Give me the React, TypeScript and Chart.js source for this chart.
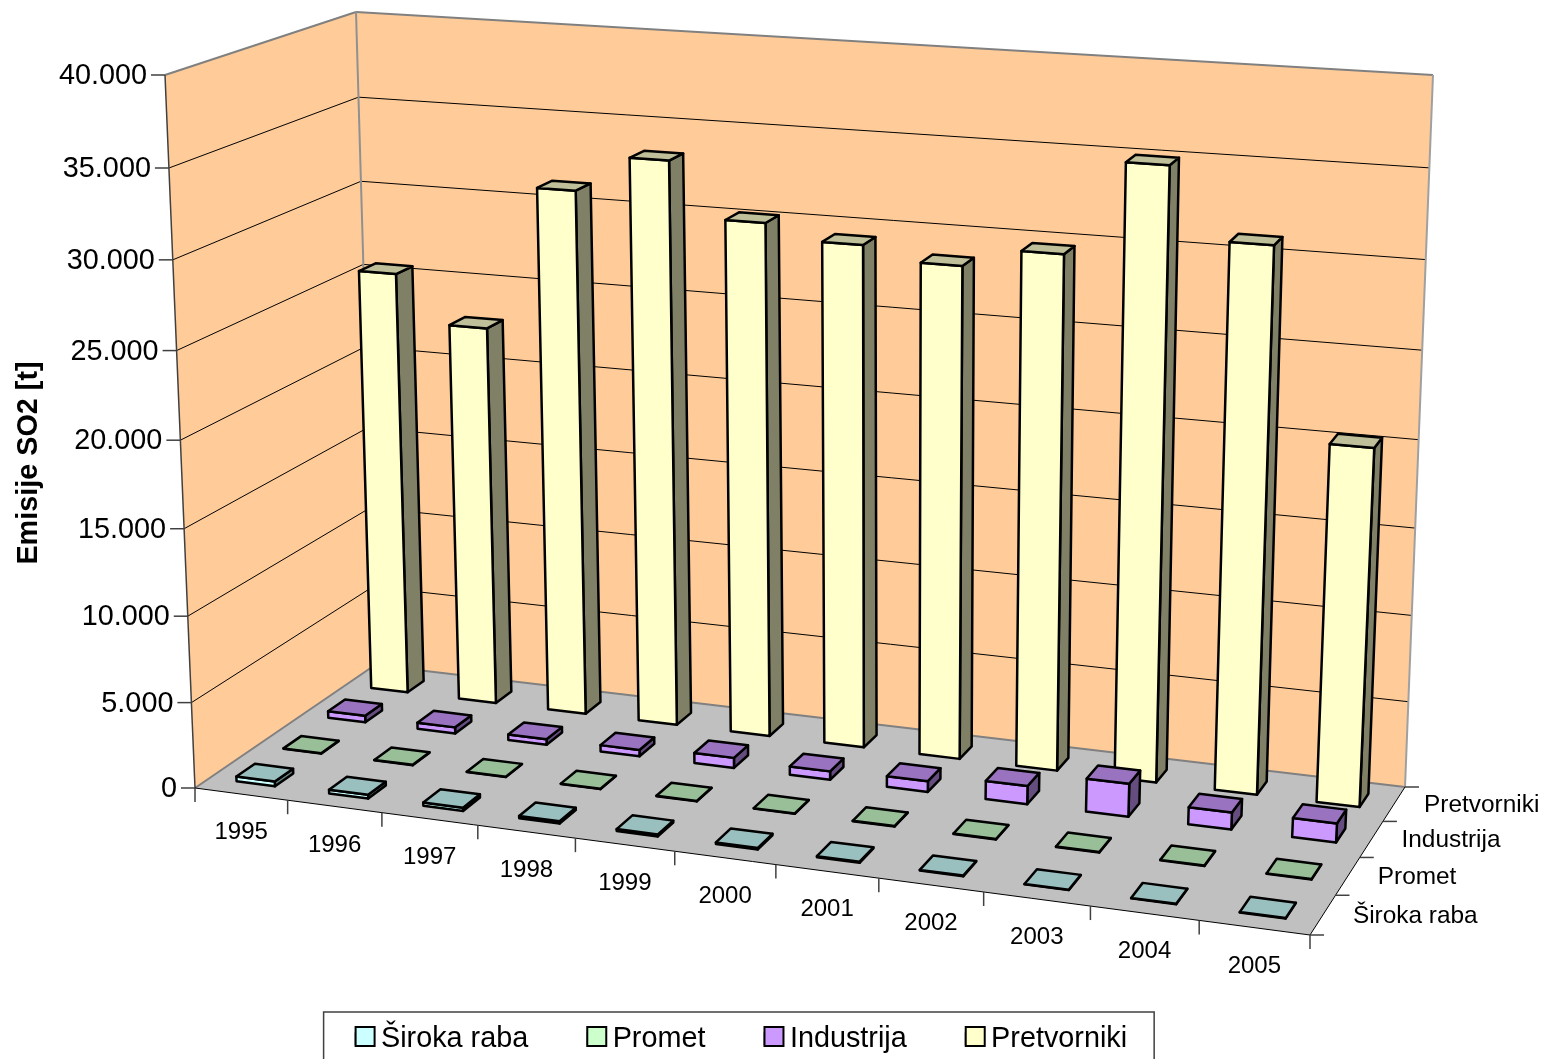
import React, { useEffect, useRef } from "react";
import { Chart, registerables } from "chart.js";

Chart.register(...registerables);

const years = ["1995","1996","1997","1998","1999","2000","2001","2002","2003","2004","2005"];
const sirokaRaba = [280, 220, 190, 130, 110, 90, 60, 40, 20, 20, 20];
const promet = [25, 25, 25, 25, 25, 25, 25, 25, 25, 25, 25];
const industrija = [400, 370, 330, 380, 600, 500, 630, 1060, 1900, 970, 1080];
const pretvorniki = [25550, 22780, 31240, 33350, 30200, 29370, 28620, 29700, 35000, 31050, 20400];
const seriesNames = ["Široka raba", "Promet", "Industrija", "Pretvorniki"];
const seriesValues = [sirokaRaba, promet, industrija, pretvorniki];
const seriesColors = ["#CCFFFF", "#CCFFCC", "#CC99FF", "#FFFFCC"];
const axisTitle = "Emisije SO2 [t]";

type Pt = [number, number];
const FONT = '"Liberation Sans", Arial, sans-serif';
const FLOOR: Pt[] = [[195, 788], [1310, 935], [1405, 787], [375, 665]];
const ROOF: Pt[] = [[165, 75], [1360, 155], [1433, 75], [356, 12]];
const PERSPECTIVE = 1.05;
const BAR_FRACTION = 0.417;
const DEPTH_FRACTION = 0.39;
const LEGEND_TOP = 965.6;

function quadMap(q: Pt[]) {
  const [[x0, y0], [x1, y1], [x2, y2], [x3, y3]] = q;
  const dx1 = x1 - x2, dx2 = x3 - x2, sx = x0 - x1 + x2 - x3;
  const dy1 = y1 - y2, dy2 = y3 - y2, sy = y0 - y1 + y2 - y3;
  const den = dx1 * dy2 - dx2 * dy1;
  const g = (sx * dy2 - dx2 * sy) / den;
  const h = (dx1 * sy - sx * dy1) / den;
  const a = x1 - x0 + g * x1, b = x3 - x0 + h * x3;
  const d = y1 - y0 + g * y1, e = y3 - y0 + h * y3;
  return (u: number, v: number): Pt => {
    const w = g * u + h * v + 1;
    return [(a * u + b * v + x0) / w, (d * u + e * v + y0) / w];
  };
}
const floorMap = quadMap(FLOOR);
const roofMap = quadMap(ROOF);

function project(u: number, w: number, h: number): Pt {
  const f = floorMap(u, w);
  const r = roofMap(u, w);
  const t = h / (h + PERSPECTIVE * (1 - h));
  return [f[0] + (r[0] - f[0]) * t, f[1] + (r[1] - f[1]) * t];
}

function shade(hex: string, k: number) {
  const n = parseInt(hex.slice(1), 16);
  return `rgb(${Math.round(((n >> 16) & 255) * k)},${Math.round(((n >> 8) & 255) * k)},${Math.round((n & 255) * k)})`;
}

function poly(ctx: CanvasRenderingContext2D, pts: Pt[], fill: string | null, stroke: string | null, lw = 1) {
  ctx.beginPath();
  pts.forEach((p, i) => (i ? ctx.lineTo(p[0], p[1]) : ctx.moveTo(p[0], p[1])));
  ctx.closePath();
  if (fill) { ctx.fillStyle = fill; ctx.fill(); }
  if (stroke) { ctx.strokeStyle = stroke; ctx.lineWidth = lw; ctx.stroke(); }
}
function line(ctx: CanvasRenderingContext2D, a: Pt, b: Pt, color: string, lw: number) {
  ctx.beginPath();
  ctx.moveTo(a[0], a[1]);
  ctx.lineTo(b[0], b[1]);
  ctx.strokeStyle = color;
  ctx.lineWidth = lw;
  ctx.stroke();
}

const scene3d = {
  id: "scene3d",
  afterLayout(chart: any) {
    const lg = chart.legend;
    const height = lg.height;
    lg.top = LEGEND_TOP;
    lg.bottom = LEGEND_TOP + height;
  },
  beforeDatasetsDraw(chart: any) {
    const ctx: CanvasRenderingContext2D = chart.ctx;
    const xs = chart.scales.x, ys = chart.scales.y, zs = chart.scales.z;
    const U = (i: number) => (xs.getPixelForValue(i) - xs.left) / xs.width;
    const W = (k: number) => (zs.getPixelForValue(k) - zs.left) / zs.width;
    const H = (v: number) => (ys.bottom - ys.getPixelForValue(v)) / ys.height;
    const du = BAR_FRACTION / 2 / xs.ticks.length;
    const dw = DEPTH_FRACTION / 2 / zs.ticks.length;
    ctx.save();
    ctx.lineJoin = "round";

    // walls and floor
    poly(ctx, [project(0,0,0), project(0,1,0), project(0,1,1), project(0,0,1)], "#FFCC99", null);
    poly(ctx, [project(0,1,0), project(1,1,0), project(1,1,1), project(0,1,1)], "#FFCC99", null);
    poly(ctx, [project(0,0,0), project(1,0,0), project(1,1,0), project(0,1,0)], "#C0C0C0", null);

    // grid lines
    ys.ticks.forEach((t: any) => {
      const h = H(t.value);
      if (h > 0 && h < 1) {
        line(ctx, project(0,0,h), project(0,1,h), "#000", 1);
        line(ctx, project(0,1,h), project(1,1,h), "#000", 1);
      }
    });

    // wall borders
    line(ctx, project(0,0,1), project(0,1,1), "#808080", 2);
    line(ctx, project(0,1,1), project(1,1,1), "#808080", 2);
    line(ctx, project(1,1,1), project(1,1,0), "#A0A0A0", 2);
    line(ctx, project(0,1,1), project(0,1,0), "#909090", 2);
    line(ctx, project(0,0,0), project(0,1,0), "#808080", 2);
    line(ctx, project(0,1,0), project(1,1,0), "#808080", 2);
    line(ctx, project(0,0,0), project(0,0,1), "#404040", 1.5);
    line(ctx, project(0,0,0), project(1,0,0), "#000", 1);
    line(ctx, project(1,0,0), project(1,1,0), "#000", 1);

    // value axis ticks and labels
    ctx.fillStyle = "#000";
    ctx.textBaseline = "middle";
    ctx.font = `28.8px ${FONT}`;
    ctx.textAlign = "right";
    ys.ticks.forEach((t: any) => {
      const p = project(0,0,H(t.value));
      line(ctx, [p[0] - 14, p[1]], p, "#404040", 1.5);
      ctx.fillStyle = "#000";
      ctx.fillText(t.label, p[0] - 18, p[1] + 1);
    });

    // category axis ticks and labels
    ctx.font = `24px ${FONT}`;
    ctx.textAlign = "center";
    const nx = xs.ticks.length;
    for (let i = 0; i <= nx; i++) {
      const p = project(i / nx, 0, 0);
      line(ctx, p, [p[0], p[1] + 14], "#404040", 1.5);
    }
    xs.ticks.forEach((t: any, i: number) => {
      const p = project(U(i), 0, 0);
      ctx.fillStyle = "#000";
      ctx.fillText(t.label, p[0], p[1] + 38.5);
    });

    // depth axis ticks and labels
    ctx.textAlign = "left";
    ctx.font = `24.4px ${FONT}`;
    const nz = zs.ticks.length;
    for (let k = 0; k <= nz; k++) {
      const p = project(1, k / nz, 0);
      line(ctx, p, [p[0] + 14, p[1]], "#404040", 1.5);
    }
    zs.ticks.forEach((t: any, k: number) => {
      const p = project(1, W(k), 0);
      ctx.fillStyle = "#000";
      ctx.fillText(t.label, p[0] + 30, p[1] + 1);
    });

    // axis title
    ctx.save();
    ctx.translate(29, 463);
    ctx.rotate(-Math.PI / 2);
    ctx.textAlign = "center";
    ctx.font = `bold 28.8px ${FONT}`;
    ctx.fillStyle = "#000";
    ctx.fillText(axisTitle, 0, 0);
    ctx.restore();

    // bars, from the back row to the front row
    for (let k = chart.data.datasets.length - 1; k >= 0; k--) {
      const ds = chart.data.datasets[k];
      const w = W(k);
      ds.data.forEach((v: number, i: number) => {
        const u = U(i), h = H(v);
        const u0 = u - du, u1 = u + du, w0 = w - dw, w1 = w + dw;
        const col = ds.backgroundColor;
        poly(ctx, [project(u1,w0,0), project(u1,w1,0), project(u1,w1,h), project(u1,w0,h)], shade(col, 0.5), "#000", 2.5);
        poly(ctx, [project(u0,w0,0), project(u1,w0,0), project(u1,w0,h), project(u0,w0,h)], col, "#000", 2.5);
        poly(ctx, [project(u0,w0,h), project(u1,w0,h), project(u1,w1,h), project(u0,w1,h)], shade(col, 0.75), "#000", 2.5);
      });
    }
    ctx.restore();
    return false;
  },
  afterDraw(chart: any) {
    const ctx: CanvasRenderingContext2D = chart.ctx;
    const boxes = chart.legend.legendHitBoxes;
    const cy = boxes[0].top + boxes[0].height / 2 - 2.5;
    ctx.save();
    boxes.forEach((b: any, i: number) => {
      ctx.fillStyle = "#fff";
      ctx.fillRect(b.left - 1, cy - 10, 22, 20);
      ctx.fillStyle = chart.data.datasets[i].backgroundColor;
      ctx.strokeStyle = "#000";
      ctx.lineWidth = 2;
      ctx.fillRect(b.left, cy - 9.5, 19, 19);
      ctx.strokeRect(b.left, cy - 9.5, 19, 19);
    });
    const last = boxes[boxes.length - 1];
    ctx.strokeStyle = "#404040";
    ctx.lineWidth = 1.5;
    ctx.strokeRect(boxes[0].left - 32, cy - 24.5, last.left + last.width + 27 - boxes[0].left + 32, 80);
    ctx.restore();
  },
};

export default function App() {
  const ref = useRef<HTMLCanvasElement>(null);
  useEffect(() => {
    const chart = new Chart(ref.current as HTMLCanvasElement, {
      type: "bar",
      data: {
        labels: years,
        datasets: seriesNames.map((name, k) => ({
          label: name,
          data: seriesValues[k],
          backgroundColor: seriesColors[k],
          borderColor: "#000",
          borderWidth: 2,
        })),
      },
      options: {
        animation: false,
        responsive: false,
        devicePixelRatio: 1,
        layout: { padding: { left: 296.6, right: 0, top: 0, bottom: 0 } },
        scales: {
          x: { display: false, ticks: { autoSkip: false } },
          y: {
            display: false,
            min: 0,
            max: 40000,
            ticks: {
              stepSize: 5000,
              callback: (v: any) => String(v).replace(/\B(?=(\d{3})+$)/g, "."),
            },
          },
          z: {
            type: "category",
            axis: "x",
            position: "bottom",
            display: false,
            offset: true,
            labels: seriesNames,
            ticks: { autoSkip: false },
          },
        },
        plugins: {
          tooltip: { enabled: false },
          legend: {
            position: "bottom",
            align: "start",
            labels: {
              boxWidth: 11,
              boxHeight: 11,
              padding: 59,
              color: "#000",
              font: { family: FONT, size: 28.8 },
            },
          },
        },
      } as any,
      plugins: [scene3d as any],
    });
    return () => chart.destroy();
  }, []);
  return (
    <canvas
      ref={ref}
      width={1543}
      height={1059}
      style={{ position: "fixed", left: 0, top: 0, width: 1543, height: 1059, display: "block" }}
    />
  );
}
